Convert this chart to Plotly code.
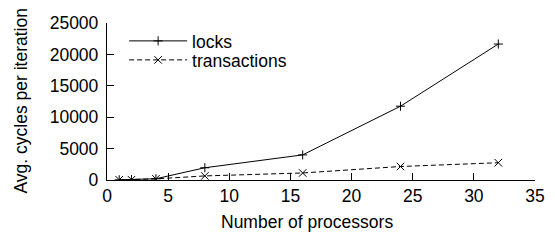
import plotly.graph_objects as go

processors = [1, 2, 4, 8, 16, 24, 32]
locks = [30, 60, 200, 1950, 4000, 11750, 21650]
transactions = [30, 50, 180, 650, 1120, 2150, 2750]

x_ticks = [0, 5, 10, 15, 20, 25, 30, 35]
y_ticks = [0, 5000, 10000, 15000, 20000, 25000]
y_tick_labels = ["0", "5000", "10000", "15000", "20000", "25000"]

FONT = "Liberation Sans, Arial, sans-serif"
FS = 17.5

fig = go.Figure()
fig.add_trace(go.Scatter(
    x=processors, y=locks, name="locks", mode="lines+markers",
    line=dict(color="black", width=1),
    marker=dict(symbol="cross-thin-open", size=6.5, color="black",
                line=dict(color="black", width=1)),
    legend="legend",
))
fig.add_trace(go.Scatter(
    x=processors, y=transactions, name="transactions", mode="lines+markers",
    line=dict(color="black", width=1, dash="5px,3px"),
    marker=dict(symbol="x-thin-open", size=7.5, color="black",
                line=dict(color="black", width=1)),
    legend="legend2",
))

axis_common = dict(
    showline=True, linecolor="black", linewidth=1.3, mirror=False,
    ticks="inside", ticklen=7, tickcolor="black", tickwidth=1,
    showgrid=False, zeroline=False,
    tickfont=dict(family=FONT, size=FS, color="black"),
)
fig.update_xaxes(range=[0, 35], tickvals=x_ticks, **axis_common)
fig.update_yaxes(range=[0, 25000], tickvals=y_ticks, ticktext=y_tick_labels,
                 ticklabelstandoff=4, **axis_common)

legend_common = dict(
    x=0.040, xanchor="left", yanchor="middle",
    bgcolor="rgba(0,0,0,0)", font=dict(family=FONT, size=FS),
    itemwidth=58,
)

fig.update_layout(
    width=555, height=240,
    margin=dict(l=107, r=10, t=23, b=60),
    paper_bgcolor="white", plot_bgcolor="white",
    font=dict(family=FONT, size=FS, color="black"),
    showlegend=True,
    legend=dict(y=(180 - 41) / 157, **legend_common),
    legend2=dict(y=(180 - 60) / 157, **legend_common),
    annotations=[
        dict(text="Avg. cycles per iteration", xref="paper", yref="paper",
             x=0, y=0.5, xshift=-87, textangle=-90, showarrow=False,
             xanchor="center", yanchor="middle",
             font=dict(family=FONT, size=FS)),
        dict(text="Number of processors", xref="paper", yref="paper",
             x=0.467, y=0, yshift=-42, showarrow=False,
             xanchor="center", yanchor="middle",
             font=dict(family=FONT, size=FS)),
    ],
)

fig.write_html("out.html",
               config={"displayModeBar": False},
               post_script="document.body.style.margin='0';"
                           "document.body.style.overflow='hidden';")
